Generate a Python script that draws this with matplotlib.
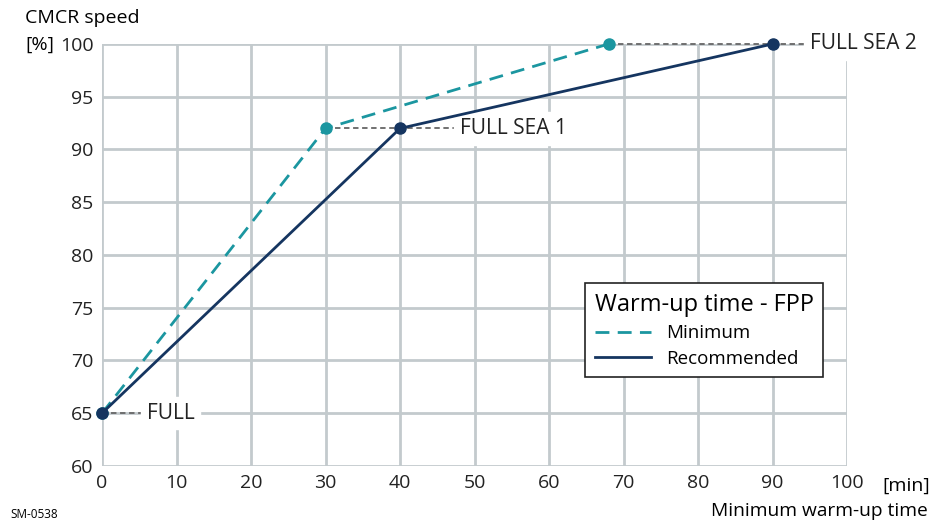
import matplotlib.pyplot as plt
from matplotlib.lines import Line2D

plt.rcParams['font.family'] = ['Open Sans', 'DejaVu Sans']

# warm-up times [min] and CMCR speed [%]
min_time = [0, 30, 68]
min_speed = [65, 92, 100]
rec_time = [0, 40, 90]
rec_speed = [65, 92, 100]
labels = ["FULL", "FULL SEA 1", "FULL SEA 2"]
label_x = [6, 48, 95]

teal = "#1b96a0"
navy = "#153560"
grid_c = "#c3cacd"

fig = plt.figure(figsize=(9.41, 5.21), dpi=100)
ax = fig.add_axes([102 / 941, 1 - 466 / 521, 745 / 941, 422 / 521])

ax.set_xlim(0, 100)
ax.set_ylim(60, 100)
ax.set_xticks(range(0, 101, 10))
ax.set_yticks(range(60, 101, 5))
ax.grid(True, color=grid_c, linewidth=2)
ax.set_axisbelow(True)
for s in ax.spines.values():
    s.set_visible(False)
ax.tick_params(length=0, labelsize=14, pad=6, colors="#222222")

# dotted leader lines to the labels
for i in range(3):
    y = rec_speed[i]
    ax.plot([min(min_time[i], rec_time[i]), label_x[i]], [y, y], color="#666666",
            linestyle=(0, (3, 2)), linewidth=1.3, zorder=2, clip_on=False)
    ax.text(label_x[i], y, labels[i], fontsize=15, va="center", ha="left",
            color="#222222", backgroundcolor="white", zorder=3, clip_on=False)

ax.plot(min_time, min_speed, color=teal, linestyle=(0, (5, 3)), linewidth=2,
        marker="o", markersize=8, zorder=4, clip_on=False)
ax.plot(rec_time, rec_speed, color=navy, linewidth=2,
        marker="o", markersize=8, zorder=5, clip_on=False)

handles = [Line2D([], [], color=teal, linestyle=(0, (5, 3)), linewidth=2),
           Line2D([], [], color=navy, linewidth=2)]
leg = ax.legend(handles, ["Minimum", "Recommended"], title="Warm-up time - FPP",
                loc="lower right", bbox_to_anchor=(0.968, 0.211),
                borderaxespad=0, fontsize=13.5, title_fontsize=17,
                fancybox=False, framealpha=1, edgecolor="#222222",
                handlelength=3.0, borderpad=0.5, labelspacing=0.4)
leg.get_frame().set_linewidth(1.2)
leg._legend_box.align = "left"

fig.text(25 / 941, 1 - 18 / 521, "CMCR speed", fontsize=14, va="center", ha="left")
fig.text(25 / 941, 1 - 45 / 521, "[%]", fontsize=14, va="center", ha="left")
fig.text(882 / 941, 1 - 486 / 521, "[min]", fontsize=14, va="center", ha="left")
fig.text(928 / 941, 1 - 511 / 521, "Minimum warm-up time", fontsize=13.8,
         va="center", ha="right")
fig.text(10 / 941, 1 - 514 / 521, "SM-0538", fontsize=8.5, va="center", ha="left")

fig.savefig("out.png", dpi=100)
